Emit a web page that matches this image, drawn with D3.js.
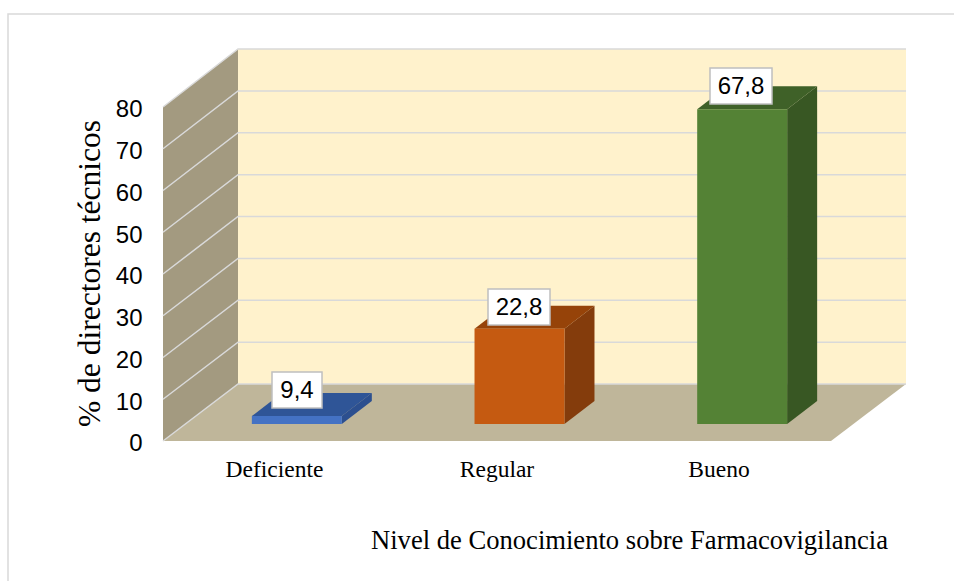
<!DOCTYPE html>
<html><head><meta charset="utf-8">
<script src="https://cdn.jsdelivr.net/npm/d3@7"></script>
<style>html,body{margin:0;padding:0;background:#fff}svg{display:block}</style>
</head><body><div id="c"></div>
<script>
const categories = ["Deficiente","Regular","Bueno"];
const labels = ["9,4","22,8","67,8"];
// heights actually drawn in the picture
const plotted = [1.9,22.8,75.4];
const ticks = [0,10,20,30,40,50,60,70,80];
const frontColors = ["#4472c4","#c55a11","#548235"];
const topColors = ["#2f5597","#964309","#3f6128"];
const sideColors = ["#2c4f8f","#843c0c","#385723"];
const yTitle = "% de directores técnicos";
const xTitle = "Nivel de Conocimiento sobre Farmacovigilancia";

const W=954,H=581;
const svg=d3.select("#c").append("svg").attr("width",W).attr("height",H);
const serif='"Liberation Serif","Times New Roman",serif', sans='"Liberation Sans",Arial,sans-serif';
const pts=a=>a.map(p=>p.join(",")).join(" ");
const poly=(a,f)=>svg.append("polygon").attr("points",pts(a)).attr("fill",f);

svg.append("path").attr("d",`M954,14H8V581`).attr("fill","none").attr("stroke","#d9d9d9").attr("stroke-width",1.5);

const yF=d3.scaleLinear().domain([0,80]).range([441,107]);
const yB=d3.scaleLinear().domain([0,80]).range([384,49]);
const xFL=163,xBL=238,xBR=906,xFR=831;

poly([[xBL,yB(0)],[xBR,yB(0)],[xBR,yB(80)],[xBL,yB(80)]],"#fff2cc");
poly([[xFL,yF(0)],[xBL,yB(0)],[xBL,yB(80)],[xFL,yF(80)]],"#a39a80");
poly([[xFL,yF(0)],[xFR,yF(0)],[xBR,yB(0)],[xBL,yB(0)]],"#bfb69a");

const grid="#d9d9d9";
svg.append("g").selectAll("path").data(ticks).join("path")
  .attr("d",t=>`M${xFL},${yF(t)}L${xBL},${yB(t)}L${xBR},${yB(t)}`)
  .attr("fill","none").attr("stroke",grid).attr("stroke-width",1.5);

svg.append("g").selectAll("text").data(ticks).join("text")
  .attr("x",142.5).attr("y",t=>yF(t)+2).attr("dy","0.35em").attr("text-anchor","end")
  .attr("font-family",sans).attr("font-size",24).attr("fill","#000").text(t=>t);

const x=d3.scaleBand().domain(categories).range([185.5,853.5]).paddingInner(.596).paddingOuter(.298);
const h=v=>yF(0)-yF(v);
const base=424,dx=30,dy=23;
const catX=[274.5,497,719];
categories.forEach((c,i)=>{
  const l=x(c),r=l+x.bandwidth(),t=base-h(plotted[i]);
  poly([[l,t],[l+dx,t-dy],[r+dx,t-dy],[r,t]],topColors[i]);
  poly([[r,t],[r+dx,t-dy],[r+dx,base-dy],[r,base]],sideColors[i]);
  poly([[l,t],[r,t],[r,base],[l,base]],frontColors[i]);
  const bw=i==0?50:62, bh=36;
  const bx=i==0?272:(i==1?488:710), by=i==0?372:(i==1?289:68);
  svg.append("rect").attr("x",bx).attr("y",by).attr("width",bw).attr("height",bh)
    .attr("fill","#fff").attr("stroke","#bfbfbf").attr("stroke-width",1.5);
  svg.append("text").attr("x",bx+bw/2).attr("y",by+bh/2).attr("dy","0.35em").attr("text-anchor","middle")
    .attr("font-family",sans).attr("font-size",24).attr("fill","#000").text(labels[i]);
  svg.append("text").attr("x",catX[i]).attr("y",477).attr("text-anchor","middle")
    .attr("font-family",serif).attr("font-size",23.5).attr("fill","#000").text(c);
});
svg.append("text").attr("transform","translate(100,273.5) rotate(-90)").attr("text-anchor","middle")
  .attr("font-family",serif).attr("font-size",31.5).attr("fill","#000").text(yTitle);
svg.append("text").attr("x",371).attr("y",549)
  .attr("font-family",serif).attr("font-size",26.6).attr("fill","#000").text(xTitle);
</script></body></html>
